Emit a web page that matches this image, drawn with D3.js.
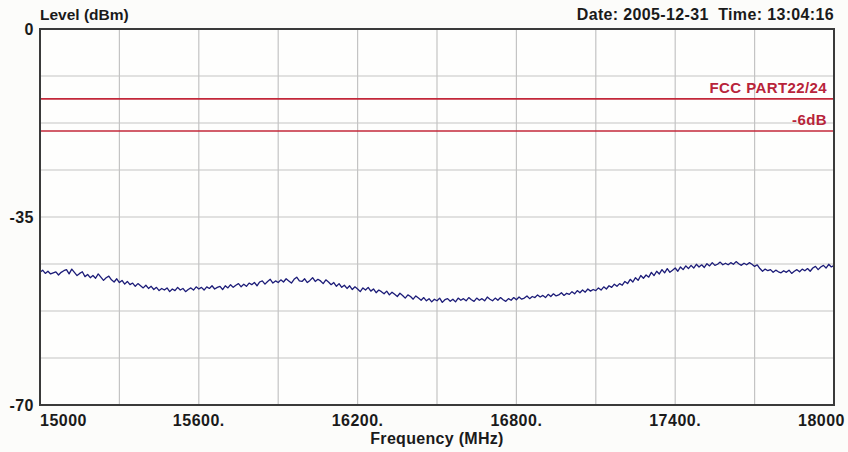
<!DOCTYPE html>
<html>
<head>
<meta charset="utf-8">
<script src="https://cdn.jsdelivr.net/npm/d3@7"></script>
<style>
  html, body { margin: 0; padding: 0; background: #fcfcfa; }
  svg { display: block; }
  text { font-family: "Liberation Sans", Arial, sans-serif; font-weight: bold; }
</style>
</head>
<body>
<svg id="chart" width="848" height="452"></svg>
<script>
// Sweep: 15000 to 18000 MHz, one reading every 10 MHz
const sweepStart = 15000;
const sweepStep = 10;
const levels = [
  -45.3, -44.9, -45.5, -45.1, -45.6, -45.4, -45.2, -45.8, -45.3, -45.0,
  -44.8, -45.6, -44.7, -45.3, -45.9, -45.5, -45.2, -46.1, -45.7, -46.3,
  -45.9, -46.4, -45.6, -46.2, -46.8, -46.3, -46.0, -46.7, -47.1, -46.5,
  -47.2, -46.8, -47.5, -47.0, -47.6, -47.3, -47.9, -47.4, -47.8, -48.2,
  -47.7, -48.3, -47.9, -48.5, -48.1, -48.7, -48.3, -48.6, -48.2, -48.9,
  -48.4, -48.7, -48.1, -48.6, -48.3, -48.9, -48.5, -48.2, -48.6, -48.0,
  -48.4, -48.1, -48.6, -48.0, -48.3, -47.8, -48.4, -48.1, -47.9, -48.5,
  -47.8, -48.2, -47.6, -48.1, -47.7, -47.4, -48.0, -47.5, -47.9, -47.3,
  -47.6, -47.2, -47.8, -47.1, -46.9, -47.5, -47.0, -46.6, -47.3, -46.9,
  -47.2, -46.7, -47.1, -46.5, -46.9, -47.3, -46.6, -46.2, -46.9, -47.0,
  -46.5, -47.2, -46.8, -46.3, -47.0, -46.6, -46.9, -47.4, -46.7, -47.1,
  -47.6, -47.2, -47.9, -47.4, -48.1, -47.7, -48.3, -47.8, -48.5, -48.0,
  -48.4, -48.9, -48.2, -48.6, -48.1, -48.8, -48.4, -49.1, -48.6, -48.9,
  -49.3, -48.8, -49.5, -49.0, -49.4, -49.8, -49.2, -49.6, -50.1, -49.5,
  -49.8, -50.3, -49.7, -50.1, -50.5, -50.0, -50.6, -50.2, -50.8, -50.3,
  -50.6, -50.1, -50.9, -50.4, -50.2, -50.7, -50.3, -50.8, -50.1, -50.5,
  -50.2, -50.6, -50.0, -50.4, -50.7, -50.1, -50.5, -50.2, -50.6, -49.9,
  -50.3, -50.6, -50.1, -50.5, -50.0, -50.4, -50.7, -50.2, -50.5, -50.0,
  -50.4, -49.9, -50.3, -50.1, -49.7, -50.2, -49.8, -50.0, -49.5, -49.9,
  -49.6, -50.0, -49.4, -49.8, -49.3, -49.7, -49.5, -49.1, -49.6, -49.2,
  -49.4, -48.9, -49.3, -48.7, -49.1, -48.6, -49.0, -48.4, -48.8, -48.5,
  -48.7, -48.2, -48.6, -48.0, -48.4, -47.8, -48.1, -47.5, -47.9, -47.4,
  -47.7, -47.0, -47.4, -46.6, -47.1, -46.3, -46.8, -45.9, -46.4, -45.8,
  -46.2, -45.3, -45.9, -45.1, -45.6, -44.8, -45.4, -44.6, -45.3, -44.9,
  -44.5, -45.1, -44.3, -44.8, -44.1, -44.6, -44.0, -44.5, -43.8, -44.3,
  -43.9, -44.4, -43.7, -44.1, -43.5, -44.0, -43.8, -43.4, -43.9, -43.6,
  -43.9, -43.5, -43.8, -43.3, -43.7, -44.0, -43.6, -43.9, -43.5, -43.8,
  -44.2, -43.9, -44.6, -45.1, -44.7, -45.0, -44.8, -45.3, -44.9, -45.2,
  -45.4, -45.0, -45.3, -44.9, -45.5, -45.1, -44.8, -45.2, -44.7, -45.0,
  -44.6, -45.1, -44.5, -44.2, -44.8, -44.3, -44.0, -44.5, -43.8, -44.3,
  -44.0
];

// Limit lines
const limitNames = ["FCC PART22/24", "-6dB"];
const limitLevels = [-13, -19];

// Axis ticks
const xTickValues = [15000, 15600, 16200, 16800, 17400, 18000];
const xTickLabels = ["15000", "15600.", "16200.", "16800.", "17400.", "18000"];
const yTickValues = [0, -35, -70];
const yTickLabels = ["0", "-35", "-70"];

const sweep = levels.map((v, i) => ({ f: sweepStart + i * sweepStep, v }));

const W = 848, H = 452;
const plot = { left: 40, right: 834, top: 29, bottom: 405 };

const svg = d3.select("#chart");

const x = d3.scaleLinear().domain([15000, 18000]).range([plot.left, plot.right]);
const y = d3.scaleLinear().domain([-70, 0]).range([plot.bottom, plot.top]);

// plot background
svg.append("rect")
  .attr("x", plot.left).attr("y", plot.top)
  .attr("width", plot.right - plot.left).attr("height", plot.bottom - plot.top)
  .attr("fill", "#fefefd");

// grid: 10 vertical, 8 horizontal divisions
const vGrid = d3.range(1, 10).map(i => 15000 + i * 300);
const hGrid = d3.range(1, 8).map(i => -i * 8.75);

svg.append("g")
  .selectAll("line").data(vGrid).join("line")
  .attr("x1", d => x(d)).attr("x2", d => x(d))
  .attr("y1", plot.top).attr("y2", plot.bottom)
  .attr("stroke", "#c4c4c4").attr("stroke-width", 1.2);

svg.append("g")
  .selectAll("line").data(hGrid).join("line")
  .attr("x1", plot.left).attr("x2", plot.right)
  .attr("y1", d => y(d)).attr("y2", d => y(d))
  .attr("stroke", "#c4c4c4").attr("stroke-width", 1.2);

// limit lines and their labels
const limits = limitNames.map((n, i) => ({ name: n, level: limitLevels[i] }));
const lg = svg.append("g");
lg.selectAll("line").data(limits).join("line")
  .attr("x1", plot.left).attr("x2", plot.right)
  .attr("y1", d => y(d.level)).attr("y2", d => y(d.level))
  .attr("stroke", "#c3283a").attr("stroke-width", 1.6);
lg.selectAll("text").data(limits).join("text")
  .attr("x", plot.right - 7)
  .attr("y", d => y(d.level) - 6)
  .attr("text-anchor", "end")
  .attr("font-size", 15)
  .attr("letter-spacing", 0.4)
  .attr("fill", "#b8243a")
  .text(d => d.name);

// measured trace
const line = d3.line().x(d => x(d.f)).y(d => y(d.v));
svg.append("path")
  .datum(sweep)
  .attr("d", line)
  .attr("fill", "none")
  .attr("stroke", "#1c1c78")
  .attr("stroke-width", 1.3)
  .attr("stroke-linejoin", "round");

// frame
svg.append("rect")
  .attr("x", plot.left).attr("y", plot.top)
  .attr("width", plot.right - plot.left).attr("height", plot.bottom - plot.top)
  .attr("fill", "none").attr("stroke", "#3a3a3a").attr("stroke-width", 2);

// y axis labels
svg.append("g")
  .selectAll("text").data(yTickValues).join("text")
  .attr("x", plot.left - 6)
  .attr("y", d => y(d) + 6)
  .attr("text-anchor", "end")
  .attr("font-size", 16)
  .attr("letter-spacing", 0.5)
  .attr("fill", "#1a1a1a")
  .text((d, i) => yTickLabels[i]);

// x axis labels
const last = xTickValues.length - 1;
svg.append("g")
  .selectAll("text").data(xTickValues).join("text")
  .attr("x", (d, i) => i === 0 ? x(d) : i === last ? W - 3 : x(d))
  .attr("y", 426)
  .attr("text-anchor", (d, i) => i === 0 ? "start" : i === last ? "end" : "middle")
  .attr("font-size", 16)
  .attr("letter-spacing", 0.5)
  .attr("fill", "#1a1a1a")
  .text((d, i) => xTickLabels[i]);

// titles
svg.append("text")
  .attr("x", (plot.left + plot.right) / 2).attr("y", 444)
  .attr("text-anchor", "middle").attr("font-size", 16).attr("letter-spacing", 0.3)
  .attr("fill", "#1a1a1a")
  .text("Frequency (MHz)");

svg.append("text")
  .attr("x", plot.left).attr("y", 20)
  .attr("font-size", 15.5).attr("fill", "#1a1a1a")
  .text("Level (dBm)");

svg.append("text")
  .attr("x", plot.right).attr("y", 20)
  .attr("text-anchor", "end").attr("font-size", 16).attr("letter-spacing", 0.35)
  .attr("fill", "#1a1a1a")
  .style("white-space", "pre")
  .text("Date: 2005-12-31  Time: 13:04:16");
</script>
</body>
</html>
